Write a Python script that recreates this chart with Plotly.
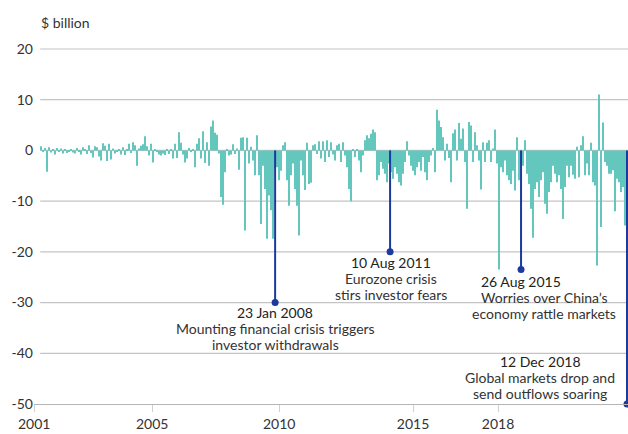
import plotly.graph_objects as go

# Weekly net flows, $ billion (left to right)
flows_a = [0.8,-0.3,0.5,-4.2,0.6,-0.4,0.3,-0.8,0.5,-0.2,0.4,-0.6,0.3,-0.5,-0.3,0.2,-0.4,-0.6,0.5,-0.3,
           -0.8,0.6,0.2,-0.7,1.0,-0.5,-1.4,0.8,0.6,-1.2,-2.0,1.4,0.9,-2.1,1.3,-1.8,0.4,-0.6,-0.3,0.2,
           -0.8,0.6,-0.9,0.3,1.3,-0.5,1.6]
flows_b = [1.0,-3.0,0.4,0.9,1.2,2.8,0.8,-1.0,1.3,-2.4,0.2,-0.3,-0.8,-1.0,-0.6,-0.9,0.3,-0.7,0.2,-1.6,
           1.3,-1.5,3.6,1.5,-0.8,-2.4,-1.6,0.5,-0.3,0.3,-3.3,1.3,2.4,-1.6,3.8,-2.5,1.6,-3.0,4.7,5.9,
           3.5,3.1,-0.6,-9.2,-10.7,-4.3,0.3,-1.0,-0.8,1.2]
flows_c = [-0.7,0.4,-3.8,2.5,2.6,-15.8,2.5,-2.6,0.7,-2.0,-4.9,3.0,-4.9,-14.5,-3.0,-7.6,-17.4,-8.9,-11.8,-17.4,
           -3.6,-3.3,-5.9,-4.0,1.0,1.6,-5.9,-10.9,-4.9,-2.6,-7.6,-10.9,-16.8,-2.0,-4.9,-7.8,1.5,-6.6,-6.4,1.0,
           1.2,-0.7,1.8,-1.6,1.8,-2.3,2.0,-1.3,1.6,-0.8]
flows_d = [-2.0,1.0,1.3,-2.3,1.6,-1.0,-3.3,-7.6,-10.0,0.3,-1.3,0.2,-2.0,-4.3,-1.0,2.0,3.0,2.4,3.3,4.1,
           3.6,-5.9,-4.9,-2.3,-3.6,-4.6,-6.3,-2.6,-4.3,-5.6,-3.3,-4.6,-6.3,-6.9,-4.6,-2.3,1.8,-1.0,-3.0,-4.0,
           -4.9,-3.3,-2.3,-4.0,-1.3,-4.3,-5.9,-2.3,-1.0,0.5]
flows_e = [-4.3,8.0,5.9,4.6,2.6,-2.0,1.3,-1.5,-6.3,3.4,4.1,-2.0,5.4,2.3,4.3,-2.3,-11.5,5.6,4.9,-2.3,
           3.6,1.0,-2.0,-7.7,1.6,-2.3,1.5,2.0,-2.3,0.4,4.1,-2.6,-23.5,-3.3,-4.3,-2.0,-4.9,-5.9,-6.6,-4.0,
           -7.9,2.6,-5.9,-3.0,-3.0,2.0,-4.6,-6.6,-11.5,-17.2]
flows_f = [-7.6,-6.3,-9.2,-5.9,-4.3,-10.5,-12.5,-8.2,-6.3,-3.0,-4.6,-6.3,-4.9,-7.6,-13.5,-7.2,-3.0,-5.3,-3.0,-4.8,
           -5.6,0.7,-5.3,1.0,2.8,-4.9,-2.6,-4.9,1.5,-6.3,-6.9,-22.7,11.0,-15.1,5.5,-2.3,-3.0,-4.6,-4.6,-3.9,
           -12.0,-5.6,-6.3,-8.2,-7.2,-14.8,-10.9]
flows = flows_a + flows_b + flows_c + flows_d + flows_e + flows_f
week_idx = list(range(len(flows)))

# Year tick labels (positions on the weekly index)
tick_idx = [-3.5, 55.5, 119, 186, 228.5]
tick_text = ["2001", "2005", "2010", "2015", "2018"]

y_ticks = [20, 10, 0, -10, -20, -30, -40, -50]
y_text = ["20", "10", "0", "-10", "-20", "-30", "-40", "-50"]

# Highlighted events
event_idx = [117, 174.5, 240, 293]
event_val = [-30, -20, -23.5, -50]
event_date = ["23 Jan 2008", "10 Aug 2011", "26 Aug 2015", "12 Dec 2018"]
event_desc = [["Mounting financial crisis triggers", "investor withdrawals"],
              ["Eurozone crisis", "stirs investor fears"],
              ["Worries over China\u2019s", "economy rattle markets"],
              ["Global markets drop and", "send outflows soaring"]]

BAR = "#63c7bd"
NAVY = "#1c3a9e"
TXT = "#333333"
GRID = "#c4c4c4"
FONT = "Lato"

fig = go.Figure()
fig.add_trace(go.Bar(x=week_idx, y=flows, marker_color=BAR, marker_line_width=0,
                     hoverinfo="skip"))

lx, ly = [], []
for xi, v in zip(event_idx, event_val):
    lx += [xi, xi, None]
    ly += [0, v, None]
fig.add_trace(go.Scatter(x=lx, y=ly, mode="lines", line=dict(color=NAVY, width=2),
                         hoverinfo="skip", cliponaxis=False))
fig.add_trace(go.Scatter(x=event_idx, y=event_val, mode="markers",
                         marker=dict(color=NAVY, size=7), hoverinfo="skip", cliponaxis=False))

# gridlines
shapes = []
for v in y_ticks[:-1]:
    shapes.append(dict(type="line", xref="x", yref="y", x0=-0.5, x1=293.5, y0=v, y1=v,
                       line=dict(color=GRID, width=1.2), layer="below"))

annotations = []
# label layout: (date xshift, desc xshift, y offsets for the three lines)
layouts = [
    (0, 0, [-10, -26, -42]),
    (1, 1, [-11, -27, -43]),
    (0, 23, [-12, -28, -44]),
    (-87, -87, [43, 27, 11]),
]
for xi, v, d, desc, (dx, ddx, offs) in zip(event_idx, event_val, event_date, event_desc, layouts):
    annotations.append(dict(x=xi, y=v, xref="x", yref="y", text=d, showarrow=False,
                            xanchor="center", yanchor="middle", xshift=dx, yshift=offs[0],
                            font=dict(family=FONT, size=14, color="#222222")))
    for line, o in zip(desc, offs[1:]):
        annotations.append(dict(x=xi, y=v, xref="x", yref="y", text=line, showarrow=False,
                                xanchor="center", yanchor="middle", xshift=ddx, yshift=o,
                                font=dict(family=FONT, size=14, color=TXT)))

annotations.append(dict(x=0.0085, y=1.049, xref="paper", yref="paper", text="$ billion",
                        showarrow=False, xanchor="left", yanchor="middle",
                        font=dict(family=FONT, size=14, color=TXT)))

fig.update_layout(
    width=628, height=434,
    margin=dict(l=34, r=0, t=40, b=30),
    paper_bgcolor="white", plot_bgcolor="white",
    bargap=0.3, showlegend=False,
    shapes=shapes, annotations=annotations,
    font=dict(family=FONT, size=14, color=TXT),
)
fig.update_xaxes(range=[-3.6, 293.5], tickvals=tick_idx, ticktext=tick_text,
                 showgrid=False, zeroline=False, showline=True, linecolor="#b5b5b5",
                 linewidth=1.2, ticks="outside", ticklen=7, tickcolor="#d0d0d0",
                 tickfont=dict(family=FONT, size=14, color=TXT), fixedrange=True)
fig.update_yaxes(range=[-50, 21.77], tickvals=y_ticks, ticktext=y_text,
                 showgrid=False, zeroline=False, showline=False, ticks="",
                 tickfont=dict(family=FONT, size=14, color=TXT), fixedrange=True)

fig.write_html("out.html", config={"displayModeBar": False},
               post_script="document.body.style.margin='0';document.body.style.overflow='hidden';")
